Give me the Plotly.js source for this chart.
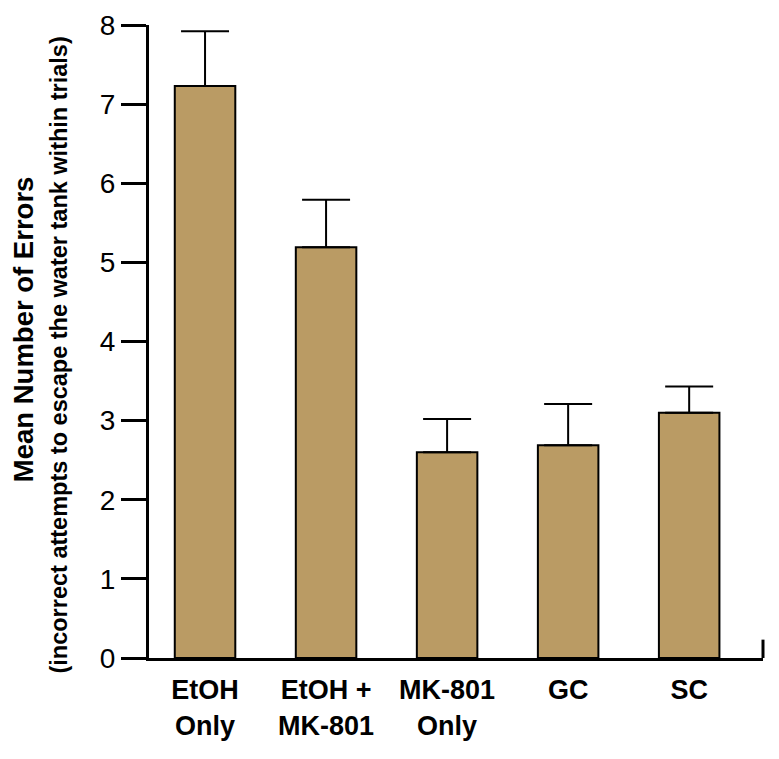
<!DOCTYPE html>
<html>
<head>
<meta charset="utf-8">
<script src="https://cdn.plot.ly/plotly-3.0.1.min.js"></script>
<style>html,body{margin:0;padding:0;background:#fff;}#chart{width:779px;height:759px;}</style>
</head>
<body>
<div id="chart"></div>
<script>
const categories = ["EtOH<br>Only", "EtOH +<br>MK-801", "MK-801<br>Only", "GC", "SC"];
const meanErrors = [7.23, 5.19, 2.60, 2.69, 3.10];
const semUpper = [0.69, 0.60, 0.42, 0.52, 0.33];
const semLower = [0, 0, 0, 0, 0];
const yTicks = [0, 1, 2, 3, 4, 5, 6, 7, 8];

const FONT = "Liberation Sans, Arial, Helvetica, sans-serif";

const trace = {
  type: "bar",
  x: categories,
  y: meanErrors,
  width: 0.5,
  marker: {color: "rgb(186,155,100)", line: {color: "#000", width: 2}},
  error_y: {
    type: "data", symmetric: false, array: semUpper, arrayminus: semLower,
    color: "#000", thickness: 2, width: 24, visible: true
  },
  hoverinfo: "none"
};

const layout = {
  width: 779, height: 759,
  margin: {l: 149, r: 16, t: 25, b: 101},
  paper_bgcolor: "#fff", plot_bgcolor: "#fff",
  showlegend: false,
  bargap: 0.5,
  xaxis: {
    type: "category",
    range: [-0.463, 4.61],
    showline: true, linewidth: 3, linecolor: "#000",
    ticks: "", showgrid: false, zeroline: false,
    tickfont: {family: FONT, size: 27, color: "#000", weight: "bold"},
    ticklabelstandoff: 6,
    fixedrange: true
  },
  yaxis: {
    range: [0, 8],
    tickvals: yTicks,
    ticktext: yTicks.map(String),
    ticks: "outside", ticklen: 25, tickwidth: 3, tickcolor: "#000",
    showline: true, linewidth: 3, linecolor: "#000",
    showgrid: false, zeroline: false,
    tickfont: {family: FONT, size: 28, color: "#000"},
    fixedrange: true
  },
  shapes: [{
    type: "line", xref: "paper", yref: "paper",
    x0: 1, x1: 1, y0: 0, y1: 0.029,
    line: {color: "#000", width: 3}
  }],
  annotations: [
    {
      text: "<b>Mean Number of Errors</b>",
      xref: "paper", yref: "paper", x: -0.204, y: 0.519,
      xanchor: "center", yanchor: "middle", textangle: -90, showarrow: false,
      font: {family: FONT, size: 27.5, color: "#000"}
    },
    {
      text: "<b>(incorrect attempts to escape the water tank within trials)</b>",
      xref: "paper", yref: "paper", x: -0.147, y: 0.479,
      xanchor: "center", yanchor: "middle", textangle: -90, showarrow: false,
      font: {family: FONT, size: 23.5, color: "#000"}
    }
  ]
};

Plotly.newPlot("chart", [trace], layout, {staticPlot: true, displayModeBar: false});
</script>
</body>
</html>
